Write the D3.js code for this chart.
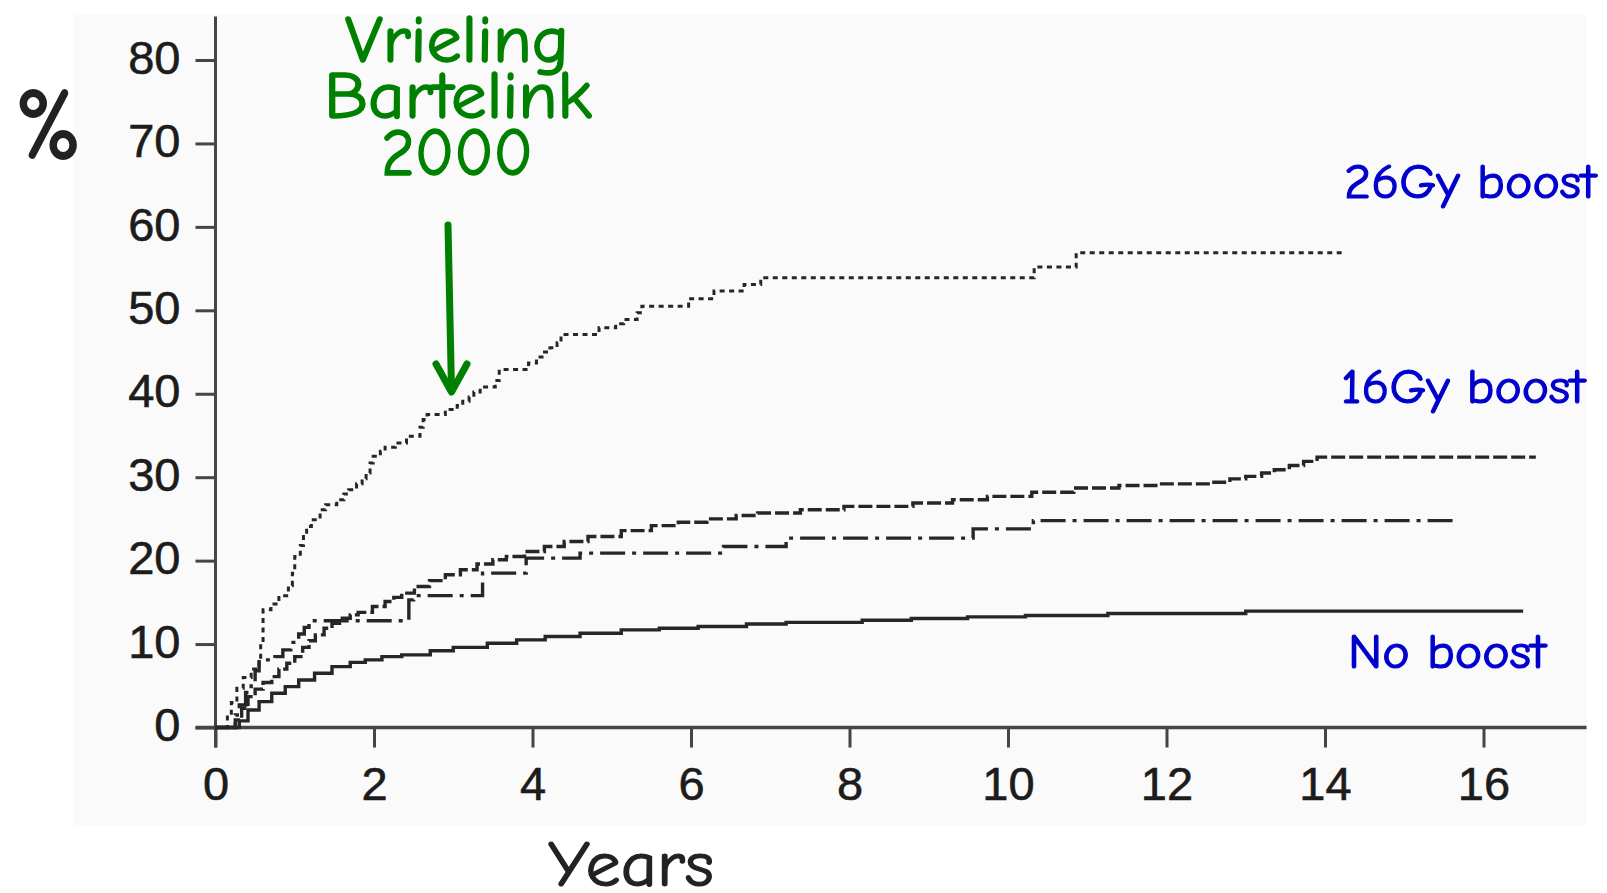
<!DOCTYPE html>
<html>
<head>
<meta charset="utf-8">
<script src="https://cdn.jsdelivr.net/npm/d3@7"></script>
<style>
  html, body { margin: 0; padding: 0; background: #ffffff; }
  svg { display: block; }
</style>
</head>
<body>
<svg id="chart" width="1607" height="893"></svg>
<script>
// Cumulative incidence curves, [years, percent], drawn as step functions
const boost26Gy = [
  [0, 0], [0.12, 0], [0.15, 1.5], [0.2, 3], [0.27, 4.7], [0.35, 6], [0.45, 7],
  [0.55, 8.1], [0.57, 10], [0.6, 14.1], [0.7, 14.8], [0.8, 15.8], [0.92, 17.0],
  [0.97, 18.5], [1.0, 20.5], [1.07, 21.8], [1.11, 22.9], [1.15, 24.1], [1.21, 24.9],
  [1.32, 26.1], [1.39, 26.7], [1.53, 27.3], [1.62, 28.0], [1.68, 28.5], [1.78, 29.2],
  [1.85, 29.8], [1.9, 30.5], [1.95, 31.7], [1.99, 32.5], [2.08, 33.1], [2.14, 33.6],
  [2.27, 34.1], [2.41, 34.9], [2.58, 36.0], [2.62, 36.9], [2.67, 37.5], [2.9, 38.1],
  [3.05, 38.6], [3.12, 39.1], [3.2, 39.6], [3.26, 40.2], [3.34, 40.8], [3.53, 41.6],
  [3.58, 42.9], [3.95, 43.7], [4.05, 44.4], [4.12, 45.0], [4.22, 45.5], [4.31, 46.1],
  [4.36, 47.1], [4.84, 47.9], [5.05, 48.4], [5.15, 48.9], [5.32, 49.7], [5.38, 50.5],
  [5.97, 51.4], [6.29, 52.3], [6.67, 53.1], [6.88, 53.9], [10.33, 55.2], [10.86, 56.9],
  [14.21, 56.9]
];

const boost16Gy = [
  [0, 0], [0.2, 0], [0.25, 0.9], [0.33, 2.3], [0.41, 3.7], [0.5, 4.6], [0.6, 5.4],
  [0.71, 6.1], [0.8, 7.0], [0.9, 7.7], [1.0, 8.5], [1.1, 9.6], [1.18, 10.4],
  [1.26, 11.1], [1.37, 11.9], [1.47, 12.5], [1.6, 13.1], [1.7, 13.5], [1.8, 13.8],
  [1.98, 14.5], [2.14, 15.1], [2.25, 15.6], [2.35, 16.1], [2.51, 16.9], [2.7, 17.6],
  [2.9, 18.3], [3.09, 18.9], [3.3, 19.6], [3.5, 20.1], [3.67, 20.5], [3.9, 21.1],
  [4.15, 21.7], [4.4, 22.3], [4.7, 22.9], [5.12, 23.6], [5.5, 24.2], [5.84, 24.6],
  [6.2, 25.0], [6.57, 25.4], [6.84, 25.7], [7.38, 26.1], [7.93, 26.5], [8.8, 26.9],
  [9.3, 27.3], [9.74, 27.7], [10.3, 28.2], [10.83, 28.7], [11.4, 29.0], [11.91, 29.2],
  [12.57, 29.4], [12.8, 29.8], [13.0, 30.1], [13.2, 30.5], [13.36, 30.9], [13.55, 31.4],
  [13.73, 31.9], [13.9, 32.4], [16.66, 32.4]
];

const boostOther = [
  [0, 0], [0.2, 0], [0.25, 1.5], [0.3, 2.7], [0.38, 4.2], [0.45, 5.5], [0.5, 6.8],
  [0.55, 8.1], [0.75, 8.5], [0.85, 9.3], [0.95, 10.2], [1.05, 11.2], [1.12, 12.0],
  [1.18, 12.8], [2.44, 15.3], [2.5, 15.8], [3.37, 18.5], [3.92, 20.3], [4.6, 20.9],
  [6.41, 21.7], [7.2, 22.7], [9.56, 23.8], [10.32, 24.8], [15.68, 24.8]
];

const noBoost = [
  [0, 0], [0.2, 0], [0.3, 0.8], [0.41, 2.1], [0.55, 3.1], [0.71, 4.1], [0.88, 4.9],
  [1.05, 5.7], [1.25, 6.5], [1.47, 7.3], [1.7, 7.8], [1.89, 8.1], [2.1, 8.5],
  [2.35, 8.7], [2.71, 9.2], [3.0, 9.6], [3.43, 10.1], [3.8, 10.5], [4.16, 10.9],
  [4.6, 11.3], [5.12, 11.7], [5.6, 11.9], [6.09, 12.1], [6.7, 12.4], [7.2, 12.6],
  [8.16, 12.86], [8.78, 13.06], [9.49, 13.26], [10.22, 13.42], [11.26, 13.66],
  [13.0, 13.95], [16.5, 13.95]
];

const xTicks = [0, 2, 4, 6, 8, 10, 12, 14, 16];
const yTicks = [0, 10, 20, 30, 40, 50, 60, 70, 80];

const seriesLabels = ["26Gy boost", "16Gy boost", "No boost"];
const noteLines = ["Vrieling", "Bartelink", "2000"];

const svg = d3.select("#chart");

// Panel background of the original figure
svg.append("rect")
  .attr("x", 73).attr("y", 15)
  .attr("width", 1514).attr("height", 810)
  .attr("fill", "#fafafa");

const x = d3.scaleLinear().domain([0, 16]).range([215.5, 1483.5]);
const y = d3.scaleLinear().domain([0, 80]).range([727.5, 60]);

const tickLen = 20;
const axisColor = "#454545";
const labelFont = "'Liberation Sans', Arial, Helvetica, sans-serif";
const handFont = "'Comic Sans MS', 'Comic Neue', 'DejaVu Sans', sans-serif";

// Axes
const gx = svg.append("g")
  .attr("transform", `translate(0,${y(0)})`)
  .call(d3.axisBottom(x).tickValues(xTicks).tickSize(tickLen).tickPadding(19).tickSizeOuter(0));
const gy = svg.append("g")
  .attr("transform", `translate(${x(0)},0)`)
  .call(d3.axisLeft(y).tickValues(yTicks).tickSize(tickLen).tickPadding(15).tickSizeOuter(0));

[gx, gy].forEach(g => {
  g.select(".domain").remove();
  g.selectAll(".tick line").attr("stroke", axisColor).attr("stroke-width", 3);
  g.selectAll(".tick text")
    .attr("fill", "#1c1c1c")
    .attr("stroke", "#1c1c1c")
    .attr("stroke-width", 0.6)
    .style("font-family", labelFont)
    .style("font-size", "47px");
});
gy.selectAll(".tick text").attr("dy", "0.28em");

// Axis lines, running past the tick range as in the original plot
svg.append("line")
  .attr("x1", x(0) - tickLen).attr("x2", x(17.3))
  .attr("y1", y(0)).attr("y2", y(0))
  .attr("stroke", axisColor).attr("stroke-width", 3.5);
svg.append("line")
  .attr("x1", x(0)).attr("x2", x(0))
  .attr("y1", y(0) + tickLen).attr("y2", y(85.2))
  .attr("stroke", axisColor).attr("stroke-width", 3);

// Curves
const line = d3.line()
  .x(d => x(d[0]))
  .y(d => y(d[1]))
  .curve(d3.curveStepAfter);

const curves = [
  { data: noBoost, dash: null, width: 3.4 },
  { data: boostOther, dash: "25 7 4 7", width: 3.4 },
  { data: boost16Gy, dash: "14 4", width: 3.4 },
  { data: boost26Gy, dash: "5 4.5", width: 3 }
];

svg.append("g").selectAll("path")
  .data(curves)
  .join("path")
  .attr("d", d => line(d.data))
  .attr("fill", "none")
  .attr("stroke", "#262626")
  .attr("stroke-width", d => d.width)
  .attr("stroke-dasharray", d => d.dash);

// Axis titles
svg.append("text")
  .attr("x", 15).attr("y", 158)
  .attr("textLength", 67).attr("lengthAdjust", "spacingAndGlyphs")
  .attr("fill", "#222").attr("stroke", "#222").attr("stroke-width", 2)
  .style("font-family", handFont)
  .style("font-size", "100px")
  .text("%");

svg.append("text")
  .attr("x", 548).attr("y", 886)
  .attr("textLength", 166).attr("lengthAdjust", "spacingAndGlyphs")
  .attr("fill", "#222").attr("stroke", "#222").attr("stroke-width", 1.2)
  .style("font-family", handFont)
  .style("font-size", "64px")
  .text("Years");

// Series labels
const labelSpec = [
  { x: 1344, y: 198, w: 252 },
  { x: 1341, y: 403, w: 244 },
  { x: 1348, y: 668, w: 198 }
];
svg.append("g").selectAll("text")
  .data(seriesLabels)
  .join("text")
  .attr("x", (d, i) => labelSpec[i].x)
  .attr("y", (d, i) => labelSpec[i].y)
  .attr("textLength", (d, i) => labelSpec[i].w)
  .attr("lengthAdjust", "spacingAndGlyphs")
  .attr("fill", "#0000cc")
  .attr("stroke", "#0000cc")
  .attr("stroke-width", 1.2)
  .style("font-family", handFont)
  .style("font-size", "48px")
  .text(d => d);

// Citation note with arrow
const noteSpec = [
  { x: 345, y: 62, w: 224 },
  { x: 324, y: 118, w: 268 },
  { x: 381, y: 175, w: 152 }
];
svg.append("g").selectAll("text")
  .data(noteLines)
  .join("text")
  .attr("x", (d, i) => noteSpec[i].x)
  .attr("y", (d, i) => noteSpec[i].y)
  .attr("textLength", (d, i) => noteSpec[i].w)
  .attr("lengthAdjust", "spacingAndGlyphs")
  .attr("fill", "#008000")
  .attr("stroke", "#008000")
  .attr("stroke-width", 1.5)
  .style("font-family", handFont)
  .style("font-size", "66px")
  .text(d => d);

const arrow = svg.append("g")
  .attr("stroke", "#008000")
  .attr("stroke-width", 7)
  .attr("fill", "none")
  .attr("stroke-linecap", "round")
  .attr("stroke-linejoin", "round");
arrow.append("line")
  .attr("x1", 448).attr("y1", 225)
  .attr("x2", 451.5).attr("y2", 390);
arrow.append("polyline")
  .attr("points", "436,364 451.5,392 467,364");
</script>
</body>
</html>
